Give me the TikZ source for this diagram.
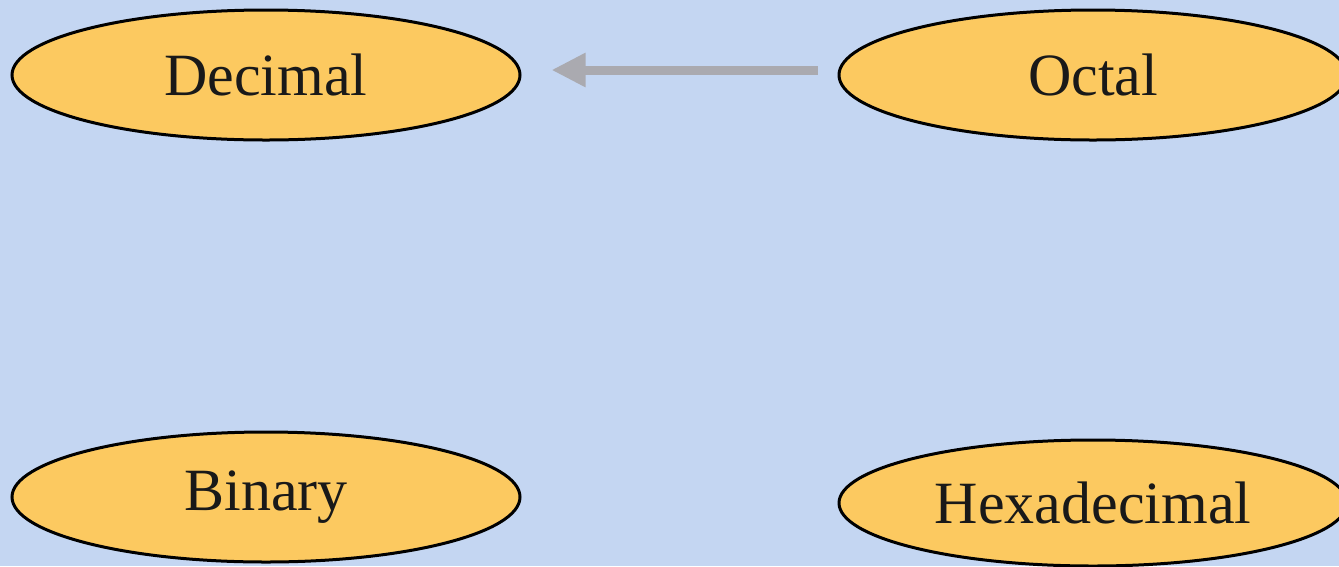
\documentclass[tikz,border=0pt]{standalone}
\usepackage{fontspec}
\setmainfont{Liberation Serif}
\usetikzlibrary{shapes.geometric,arrows.meta}
\definecolor{bgblue}{RGB}{196,214,242}
\definecolor{ovalfill}{RGB}{252,201,96}
\definecolor{arrowgray}{RGB}{170,170,176}
\tikzset{
  oval/.style={ellipse, draw=black, line width=3pt, fill=ovalfill,
    minimum width=508pt, minimum height=130pt, inner sep=0pt,
    font=\fontsize{60}{66}\selectfont, text=black!90},
  graylink/.style={draw=arrowgray, line width=9pt,
    -{Triangle[length=34pt,width=32pt]}}
}
\begin{document}
\begin{tikzpicture}[x=1pt,y=-1pt]
\useasboundingbox (0,0) rectangle (1339,566);
\clip (0,0) rectangle (1339,566);
\fill[bgblue] (0,0) rectangle (1339,566);
\node[oval] (dec) at (266,75) {Decimal};
\node[oval] (oct) at (1093,75) {Octal};
\node[oval] (bin) at (266,497) {Binary};
\node[oval, minimum height=126pt] (hex) at (1093,503) {Hexadecimal};
\draw[graylink, shorten <=20pt, shorten >=30pt]
  ([yshift=5pt]oct.west) -- ([yshift=5pt]dec.east);
\end{tikzpicture}
\end{document}
